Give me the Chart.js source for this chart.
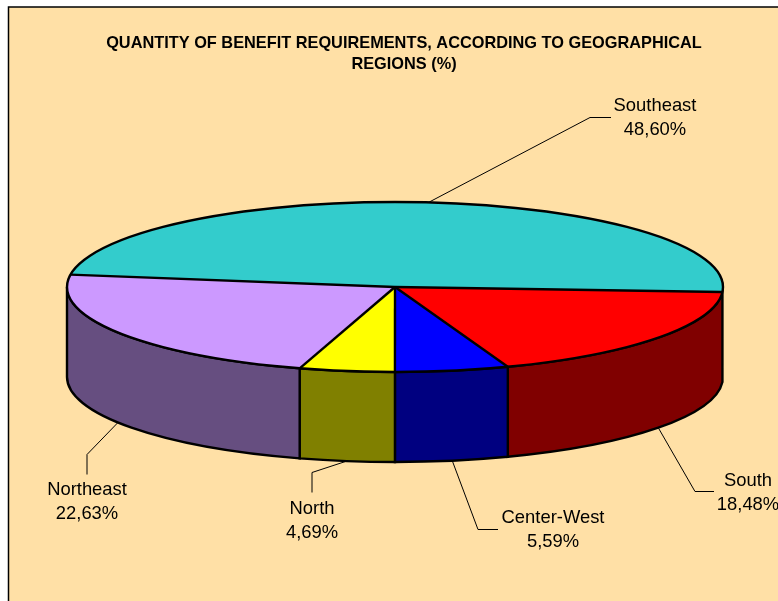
<!DOCTYPE html>
<html>
<head>
<meta charset="utf-8">
<style>
  html, body { margin: 0; padding: 0; background: #fff; }
  canvas { display: block; }
</style>
<script src="https://cdn.jsdelivr.net/npm/chart.js@4"></script>
</head>
<body>
<canvas id="myChart" width="778" height="601"></canvas>
<script>
const titleLines = ["QUANTITY OF BENEFIT REQUIREMENTS, ACCORDING TO GEOGRAPHICAL", "REGIONS (%)"];
const regions = ["South", "Center-West", "North", "Northeast", "Southeast"];
const shares = [18.48, 5.59, 4.69, 22.63, 48.60];
const topColors = ["#FF0000", "#0000FF", "#FFFF00", "#CC99FF", "#33CCCC"];
const wallColors = ["#800000", "#000080", "#808000", "#664E80", "#1A6666"];

// label centre and leader elbows, same order as regions
const labelX = [748, 553, 312, 87, 655];
const labelY = [481, 518, 509, 490, 106];
const elbowA = [[695, 491], [478, 529], [312, 472], [87, 454], [590, 117]];
const elbowB = [[714, 491], [498, 529], [312, 492], [87, 474], [611, 117]];

const squash = 85 / 328;
const depth = 90;
const bg = "#FFE0A6";

const fakePie = {
  id: "fakePie",
  beforeDraw(chart) {
    const c = chart.ctx;
    c.save();
    c.fillStyle = bg;
    c.fillRect(8, 7, chart.width - 8, chart.height - 7);
    c.strokeStyle = "#000";
    c.lineWidth = 1.5;
    c.beginPath();
    c.moveTo(8.5, chart.height);
    c.lineTo(8.5, 7);
    c.lineTo(chart.width, 7);
    c.stroke();
    c.restore();
  },
  beforeDatasetDraw(chart, args) {
    const c = chart.ctx;
    const arcs = args.meta.data;
    const cx = arcs[0].x, cy = arcs[0].y, r = arcs[0].outerRadius;
    const ry = r * squash;

    // side wall, only the front half of the disc shows
    c.save();
    c.lineWidth = 2.4;
    c.strokeStyle = "#000";
    arcs.forEach((a, i) => {
      const a0 = Math.max(a.startAngle, 0);
      const a1 = Math.min(a.endAngle, Math.PI);
      if (a1 <= a0) return;
      c.beginPath();
      c.ellipse(cx, cy, r, ry, 0, a0, a1);
      c.ellipse(cx, cy + depth, r, ry, 0, a1, a0, true);
      c.closePath();
      c.fillStyle = wallColors[i];
      c.fill();
      c.stroke();
    });
    c.restore();

    // the library draws the slices, flattened
    c.save();
    c.translate(cx, cy);
    c.scale(1, squash);
    c.translate(-cx, -cy);
  },
  afterDatasetDraw(chart, args) {
    const c = chart.ctx;
    c.restore();
    const arcs = args.meta.data;
    const cx = arcs[0].x, cy = arcs[0].y, r = arcs[0].outerRadius;
    const ry = r * squash;

    c.save();
    c.lineWidth = 2.4;
    c.strokeStyle = "#000";
    c.lineJoin = "round";
    c.beginPath();
    c.ellipse(cx, cy, r, ry, 0, 0, Math.PI * 2);
    c.stroke();
    arcs.forEach(a => {
      c.beginPath();
      c.moveTo(cx, cy);
      c.lineTo(cx + r * Math.cos(a.startAngle), cy + ry * Math.sin(a.startAngle));
      c.stroke();
    });
    c.restore();

    // leaders start on the rim at each slice's middle
    c.save();
    c.lineWidth = 1;
    c.strokeStyle = "#000";
    arcs.forEach((a, i) => {
      const mid = (a.startAngle + a.endAngle) / 2;
      const front = Math.sin(mid) > 0;
      const sx = cx + r * Math.cos(mid);
      const sy = cy + ry * Math.sin(mid) + (front ? depth : 0);
      c.beginPath();
      c.moveTo(sx, sy);
      c.lineTo(elbowA[i][0], elbowA[i][1] + 0.5);
      c.lineTo(elbowB[i][0], elbowB[i][1] + 0.5);
      c.stroke();
    });
    c.restore();

    // texts
    c.save();
    c.fillStyle = "#000";
    c.textAlign = "center";
    c.textBaseline = "middle";
    c.font = "bold 16.33px 'Liberation Sans', Arial, sans-serif";
    c.fillText(titleLines[0], 404, 43);
    c.fillText(titleLines[1], 404, 64);
    c.font = "18.4px 'Liberation Sans', Arial, sans-serif";
    regions.forEach((name, i) => {
      c.fillText(name, labelX[i], labelY[i]);
      c.fillText(shares[i].toFixed(2).replace(".", ",") + "%", labelX[i], labelY[i] + 24);
    });
    c.restore();
  }
};

new Chart("myChart", {
  type: "pie",
  data: {
    labels: regions,
    datasets: [{
      data: shares,
      backgroundColor: topColors,
      borderWidth: 0
    }]
  },
  options: {
    responsive: false,
    animation: false,
    rotation: 93.35,
    radius: 328,
    layout: { padding: { left: 12, bottom: 27 } },
    plugins: {
      legend: { display: false },
      title: { display: false },
      tooltip: { enabled: false }
    }
  },
  plugins: [fakePie]
});
</script>
</body>
</html>
